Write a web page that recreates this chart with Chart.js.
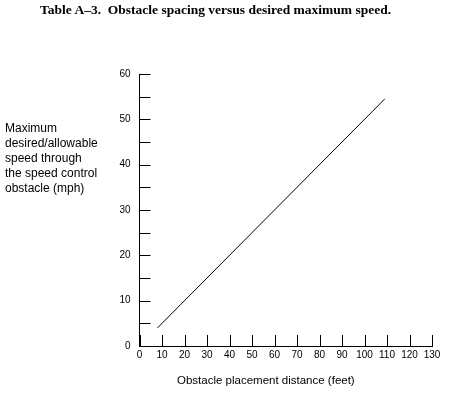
<!DOCTYPE html>
<html>
<head>
<meta charset="utf-8">
<script src="https://cdn.jsdelivr.net/npm/chart.js@4/dist/chart.umd.min.js"></script>
<style>
    body { margin: 0; background: #fff; }
    #wrap { position: relative; width: 454px; height: 395px; overflow: hidden; }
    #obstacleChart { position: absolute; left: 0; top: 0; }
    .title {
        position: absolute; left: 40px; top: 2px;
        font: bold 13.5px "Liberation Serif", serif; white-space: pre; color: #000;
    }
    .y-title {
        position: absolute; left: 5px; top: 121px;
        font: 12px "Liberation Sans", Arial, sans-serif; line-height: 15px; color: #000;
    }
    .x-title {
        position: absolute; left: 177px; top: 374px;
        font: 11.5px "Liberation Sans", Arial, sans-serif; color: #000;
    }
</style>
</head>
<body>
<div id="wrap">
    <canvas id="obstacleChart" width="454" height="395"></canvas>
    <div class="title">Table A–3.  Obstacle spacing versus desired maximum speed.</div>
    <div class="y-title">Maximum<br>desired/allowable<br>speed through<br>the speed control<br>obstacle (mph)</div>
    <div class="x-title">Obstacle placement distance (feet)</div>
</div>
<script>
// Du lieu doc tu hinh
const spacingFeet = [8, 109];
const speedMph = [4, 54.5];
const xTickLabels = [0, 10, 20, 30, 40, 50, 60, 70, 80, 90, 100, 110, 120, 130];
const yTickLabels = [0, 10, 20, 30, 40, 50, 60];

// Ve vach chia huong vao trong (nhu ban goc)
const inwardTicks = {
    id: 'inwardTicks',
    afterDatasetsDraw(chart) {
        const { ctx, chartArea, scales } = chart;
        ctx.save();
        ctx.strokeStyle = '#000';
        ctx.lineWidth = 1;
        ctx.beginPath();
        scales.y.ticks.forEach(t => {
            const y = Math.round(scales.y.getPixelForValue(t.value)) + 0.5;
            ctx.moveTo(chartArea.left, y);
            ctx.lineTo(chartArea.left + 11, y);
        });
        scales.x.ticks.forEach(t => {
            const x = Math.round(scales.x.getPixelForValue(t.value)) + 0.5;
            ctx.moveTo(x, chartArea.bottom);
            ctx.lineTo(x, chartArea.bottom - 11);
        });
        ctx.stroke();
        ctx.restore();
    }
};

const tickFont = { family: '"Liberation Sans", Arial, sans-serif', size: 10 };

new Chart(document.getElementById('obstacleChart'), {
    type: 'line',
    data: {
        datasets: [{
            data: spacingFeet.map((x, i) => ({ x: x, y: speedMph[i] })),
            borderColor: '#000',
            borderWidth: 1,
            pointRadius: 0,
            fill: false,
            tension: 0
        }]
    },
    options: {
        responsive: false,
        animation: false,
        layout: {
            padding: { left: 0, top: 74, right: 22, bottom: 29 }
        },
        plugins: {
            legend: { display: false },
            tooltip: { enabled: false }
        },
        scales: {
            x: {
                type: 'linear',
                min: xTickLabels[0],
                max: xTickLabels[xTickLabels.length - 1],
                afterFit: function (scale) { scale.height = 20; },
                grid: { drawOnChartArea: false, drawTicks: false, color: 'transparent' },
                border: { display: true, color: '#000', width: 1 },
                ticks: {
                    stepSize: 10,
                    padding: 3,
                    color: '#000',
                    font: tickFont,
                    maxRotation: 0,
                    autoSkip: false
                }
            },
            y: {
                type: 'linear',
                min: yTickLabels[0],
                max: yTickLabels[yTickLabels.length - 1],
                afterFit: function (scale) { scale.width = 139.5; },
                grid: { drawOnChartArea: false, drawTicks: false, color: 'transparent' },
                border: { display: true, color: '#000', width: 1 },
                ticks: {
                    stepSize: 5,
                    padding: 9,
                    color: '#000',
                    font: tickFont,
                    autoSkip: false,
                    callback: function (value) {
                        return yTickLabels.includes(value) ? String(value) : '';
                    }
                }
            }
        }
    },
    plugins: [inwardTicks]
});
</script>
</body>
</html>
